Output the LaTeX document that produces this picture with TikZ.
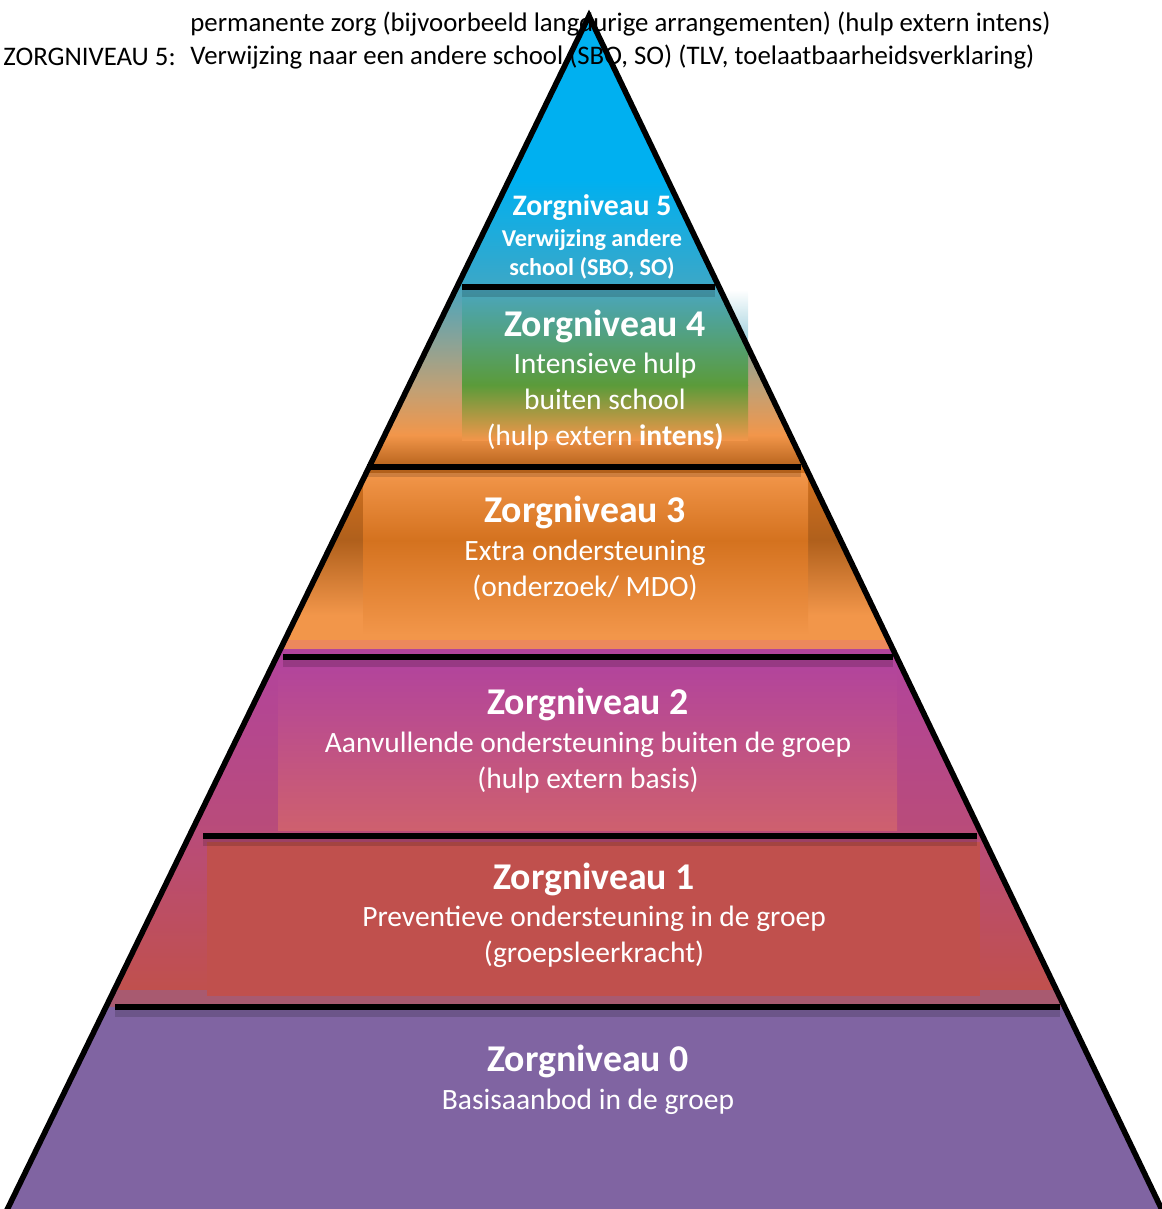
\documentclass[tikz,border=0pt]{standalone}
\usepackage{fontspec}
\setmainfont{Carlito}
\usepackage{tikz}
\usetikzlibrary{positioning}

\definecolor{cyanTop}{HTML}{00B0F0}
\definecolor{cyanBot}{HTML}{3DA7C6}
\definecolor{tealFour}{HTML}{4AA6BE}
\definecolor{greenFour}{HTML}{5B9B3A}
\definecolor{tanFour}{HTML}{C2A074}
\definecolor{orangeLight}{HTML}{F2964A}
\definecolor{orangeMid}{HTML}{D4721F}
\definecolor{orangeDark}{HTML}{B0601C}
\definecolor{salmonThree}{HTML}{EC885C}
\definecolor{magentaTop}{HTML}{B2449C}
\definecolor{magentaBot}{HTML}{B94C78}
\definecolor{pinkRect}{HTML}{CE606E}
\definecolor{redOne}{HTML}{C0504D}
\definecolor{mauveOne}{HTML}{A85A70}
\definecolor{purpleZero}{HTML}{8064A2}

\begin{document}
\begin{tikzpicture}[x=0.5pt, y=-0.5pt,
    bar/.style={line width=3pt},
    lvltitle/.style={text=white, font=\fontsize{18.9}{22}\selectfont\bfseries, inner sep=0pt},
    lvltext/.style={text=white, font=\fontsize{14.75}{18}\selectfont, align=center, inner sep=0pt},
    toptext/.style={font=\fontsize{13.4}{16}\selectfont, anchor=west, inner sep=0pt}]

    \useasboundingbox (0,0) rectangle (1161,1209);

    % Lagen van de piramide
    \begin{scope}
        \clip (589,16) -- (6,1212) -- (1163,1212) -- cycle;
        % zorgniveau 5
        \fill[cyanTop] (0,0) rectangle (1161,180);
        \shade[top color=cyanTop, bottom color=cyanBot] (0,180) rectangle (1161,288);
        % zorgniveau 4
        \shade[top color=tealFour, bottom color=tanFour] (0,287) rectangle (1161,390);
        \shade[top color=tanFour, bottom color=orangeLight] (0,390) rectangle (1161,435);
        \shade[top color=orangeLight, bottom color=orangeMid!85!black] (0,435) rectangle (1161,468);
        \shade[top color=tealFour, bottom color=greenFour] (462,290) rectangle (748,385);
        \shade[top color=greenFour, bottom color=orangeLight] (462,385) rectangle (748,440);
        % zorgniveau 3
        \shade[top color=orangeMid, bottom color=orangeDark] (0,467) rectangle (1161,540);
        \shade[top color=orangeDark, bottom color=orangeLight] (0,540) rectangle (1161,615);
        \fill[orangeLight] (0,615) rectangle (1161,640);
        \fill[salmonThree] (0,640) rectangle (1161,649);
        \fill[magentaTop] (0,649) rectangle (1161,658);
        \shade[top color=orangeLight, bottom color=orangeMid] (363,473) rectangle (808,540);
        \shade[top color=orangeMid, bottom color=orangeLight] (363,540) rectangle (808,635);
        % zorgniveau 2
        \shade[top color=magentaTop, bottom color=magentaBot] (0,657) rectangle (1161,837);
        \shade[top color=magentaTop, bottom color=pinkRect] (278,665) rectangle (897,830);
        % zorgniveau 1
        \shade[top color=magentaBot, bottom color=redOne] (0,836) rectangle (1161,990);
        \fill[mauveOne] (0,990) rectangle (1161,1008);
        \fill[redOne] (207,842) rectangle (980,996);
        % zorgniveau 0
        \fill[purpleZero] (0,1007) rectangle (1161,1212);
    \end{scope}

    % Uitloop van het kader van zorgniveau 4
    \shade[top color=white, bottom color=tealFour!80, opacity=0.7] (723,290) -- (748,290) -- (748,345) -- cycle;

    % Tekst boven de piramide
    \node[toptext] (permZorg) at (190,24) {permanente zorg (bijvoorbeeld langdurige arrangementen) (hulp extern intens)};
    \node[toptext] (labelVijf) at (3,57) {ZORGNIVEAU 5:};
    \node[toptext] (textVijf) at (190,57) {Verwijzing naar een andere school (SBO, SO) (TLV, toelaatbaarheidsverklaring)};

    % Scheidingslijnen tussen de niveaus
    \foreach \ya/\xl/\xr in {287/462/715, 467/367/801, 657/283/893, 836/203/977, 1007/115/1060} {
        \fill[black, opacity=0.15] (\xl,\ya+3) rectangle (\xr,\ya+10);
        \draw[bar] (\xl,\ya) -- (\xr,\ya);
    }

    % Omtrek
    \draw[line width=2.8pt, line join=miter] (589,16) -- (6,1212) -- (1163,1212) -- cycle;

    % Teksten per zorgniveau
    \node[lvltitle, font=\fontsize{14.9}{17}\selectfont\bfseries] (titleVijf) at (592,208) {Zorgniveau 5};
    \node[lvltext, font=\fontsize{12.1}{14.5}\selectfont\bfseries] (descVijf) at (592,254) {Verwijzing andere\\school (SBO, SO)};

    \node[lvltitle] (titleVier) at (605,326) {Zorgniveau 4};
    \node[lvltext] (descVier) at (605,402) {Intensieve hulp\\buiten school\\(hulp extern \textbf{intens)}};

    \node[lvltitle] (titleDrie) at (585,512) {Zorgniveau 3};
    \node[lvltext] (descDrie) at (585,570) {Extra ondersteuning\\(onderzoek/ MDO)};

    \node[lvltitle] (titleTwee) at (588,704) {Zorgniveau 2};
    \node[lvltext] (descTwee) at (588,763) {Aanvullende ondersteuning buiten de groep\\(hulp extern basis)};

    \node[lvltitle] (titleEen) at (594,879) {Zorgniveau 1};
    \node[lvltext] (descEen) at (594,937) {Preventieve ondersteuning in de groep\\(groepsleerkracht)};

    \node[lvltitle] (titleNul) at (588,1061) {Zorgniveau 0};
    \node[lvltext] (descNul) at (588,1102) {Basisaanbod in de groep};
\end{tikzpicture}
\end{document}
